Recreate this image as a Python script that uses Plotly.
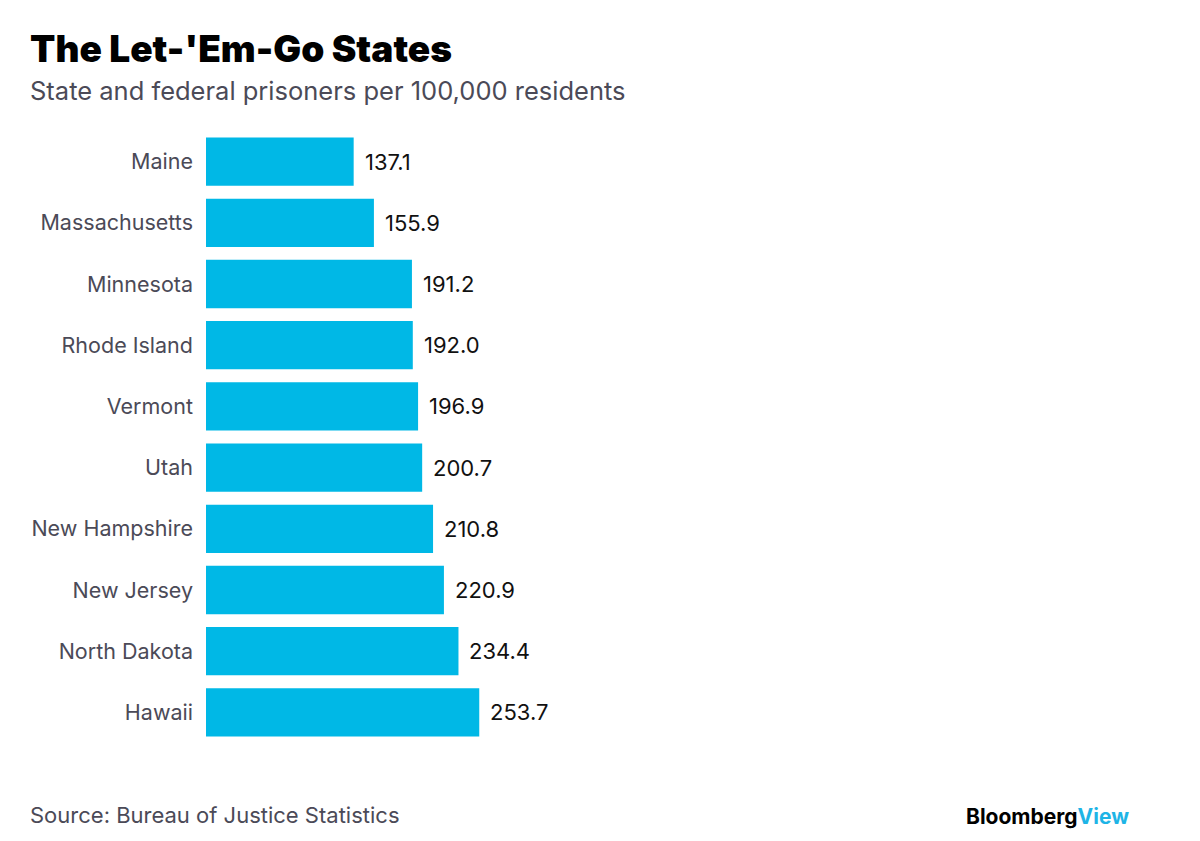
import plotly.graph_objects as go

states = ["Maine", "Massachusetts", "Minnesota", "Rhode Island", "Vermont",
          "Utah", "New Hampshire", "New Jersey", "North Dakota", "Hawaii"]
rates = [137.1, 155.9, 191.2, 192.0, 196.9, 200.7, 210.8, 220.9, 234.4, 253.7]
value_labels = [f"{v:.1f}" for v in rates]

BAR = "#00B8E6"
GRAY = "#4B4A57"
FONT = "Inter"

fig = go.Figure()
fig.add_trace(go.Bar(
    x=rates, y=states, orientation="h",
    marker=dict(color=BAR, line=dict(width=0)),
    hoverinfo="skip",
))

for s, v, t in zip(states, rates, value_labels):
    fig.add_annotation(x=v, y=s, text=t, showarrow=False, xanchor="left",
                       xshift=9, font=dict(family=FONT, size=22, color="#111111"))

L, R, T, B = 206, 30, 131, 98
W, H = 1200, 841

fig.update_layout(
    width=W, height=H,
    margin=dict(l=L, r=R, t=T, b=B),
    paper_bgcolor="white", plot_bgcolor="white",
    showlegend=False,
    bargap=0.21,
    xaxis=dict(range=[0, 895], visible=False, fixedrange=True),
    yaxis=dict(autorange="reversed", showgrid=False, zeroline=False, showline=False,
               ticks="", ticklabelstandoff=12, fixedrange=True,
               tickfont=dict(family=FONT, size=21.5, color=GRAY)),
)

def page_text(x, y, text, size, color, weight=400, xanchor="left"):
    fig.add_annotation(
        xref="paper", yref="paper",
        x=(x - L) / (W - L - R), y=(H - B - y) / (H - T - B),
        text=text, showarrow=False, xanchor=xanchor, yanchor="middle",
        font=dict(family=FONT, size=size, color=color, weight=weight),
    )

page_text(28, 48, "The Let-'Em-Go States", 37, "#000000", weight=900)
page_text(28, 90, "State and federal prisoners per 100,000 residents", 25.5, GRAY)
page_text(28, 815, "Source: Bureau of Justice Statistics", 22, GRAY)
page_text(1131, 816, "Bloomberg<span style='color:#1EB4E6'>View</span>", 21,
          "#000000", weight=700, xanchor="right")

fig.write_html("out.html", config={"displayModeBar": False},
               post_script="document.body.style.margin='0';")
